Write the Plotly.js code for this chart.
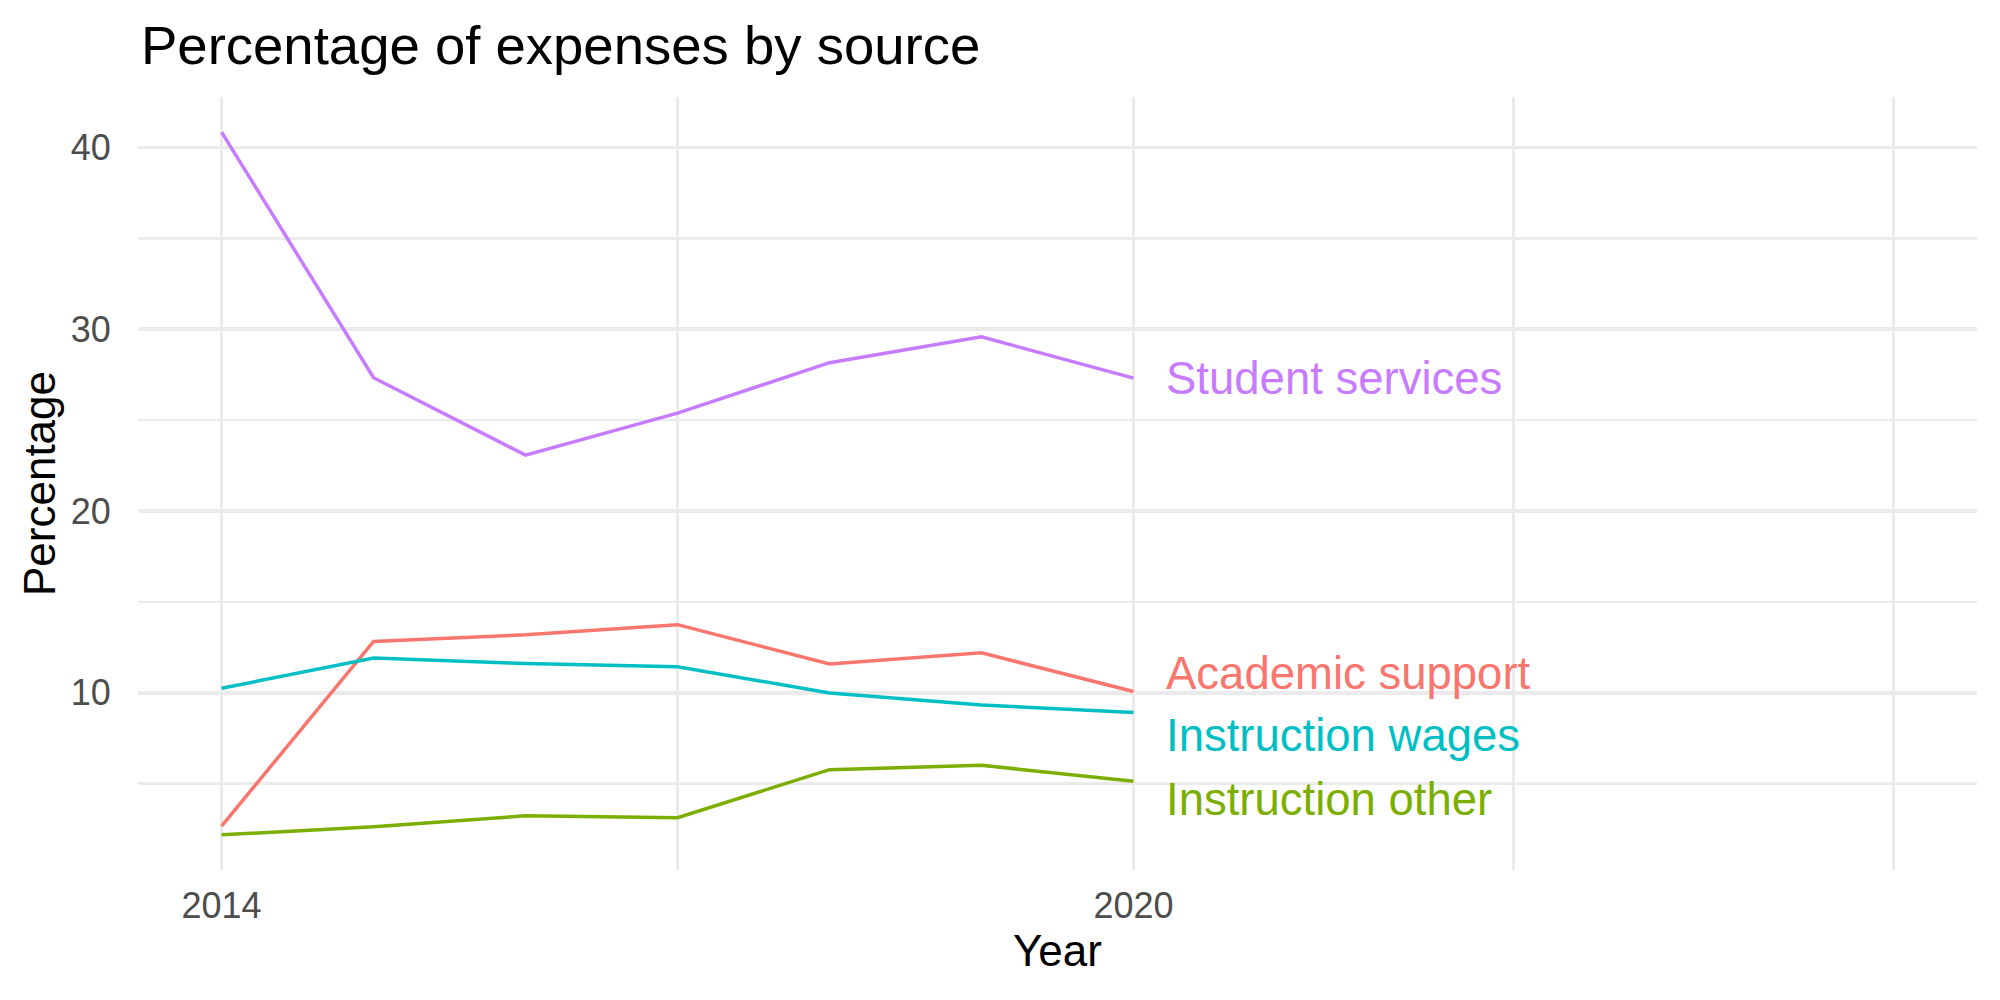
<!DOCTYPE html>
<html>
<head>
<meta charset="utf-8">
<script src="https://cdn.plot.ly/plotly-3.0.1.min.js"></script>
<style>html,body{margin:0;padding:0;background:#fff;}#chart{width:2000px;height:1000px;}</style>
</head>
<body>
<div id="chart"></div>
<script>
// ---- data ----
const years = [2014, 2015, 2016, 2017, 2018, 2019, 2020];
const academicSupport   = [2.65, 12.82, 13.18, 13.74, 11.58, 12.19, 10.06];
const instructionOther  = [2.17, 2.61, 3.22, 3.11, 5.76, 6.00, 5.12];
const instructionWages  = [10.24, 11.90, 11.60, 11.42, 9.98, 9.32, 8.90];
const studentServices   = [40.85, 27.33, 23.07, 25.38, 28.16, 29.58, 27.31];
const seriesNames = ["Academic support", "Instruction other", "Instruction wages", "Student services"];
const xTickVals = [2014, 2020, 2025];
const xTickText = ["2014", "2020", ""];
const xMinorVals = [2017, 2022.5];
const yTickVals = [10, 20, 30, 40];
const yTickText = ["10", "20", "30", "40"];
const yMinorVals = [5, 15, 25, 35];

// ---- styles ----
const colors = ["#F8766D", "#7CAE00", "#00BFC4", "#C77CFF"];
const labelShift = [18, -18, -23, 0];
const FONT = "Liberation Sans, Arial, sans-serif";

const allSeries = [academicSupport, instructionOther, instructionWages, studentServices];

const traces = allSeries.map((vals, i) => ({
  x: years, y: vals, type: "scatter", mode: "lines", name: seriesNames[i],
  line: {color: colors[i], width: 3.5}, hoverinfo: "skip", showlegend: false
}));

const allVals = [].concat(...allSeries);
const yMin = Math.min(...allVals), yMax = Math.max(...allVals);
const yPad = (yMax - yMin) * 0.05;
const xLo = 2014, xHi = 2025, xPad = (xHi - xLo) * 0.05;

const annotations = allSeries.map((vals, i) => ({
  x: years[years.length - 1], y: vals[vals.length - 1], xref: "x", yref: "y",
  text: seriesNames[i], showarrow: false, xanchor: "left", yanchor: "middle",
  xshift: 31, yshift: labelShift[i],
  font: {family: FONT, size: 45.5, color: colors[i]}
}));

const layout = {
  width: 2000, height: 1000,
  paper_bgcolor: "#ffffff", plot_bgcolor: "#ffffff",
  margin: {l: 138, r: 23, t: 97, b: 130, pad: 0},
  font: {family: FONT},
  title: {
    text: "Percentage of expenses by source",
    font: {family: FONT, size: 54.5, color: "#000000"},
    x: 0.0705, xref: "container", xanchor: "left",
    y: 0.955, yref: "container", yanchor: "middle"
  },
  xaxis: {
    range: [xLo - xPad, xHi + xPad],
    tickmode: "array", tickvals: xTickVals, ticktext: xTickText,
    showgrid: true, gridcolor: "#EBEBEB", gridwidth: 3.8,
    minor: {tickmode: "array", tickvals: xMinorVals, showgrid: true, gridcolor: "#EBEBEB", gridwidth: 2.2, ticks: ""},
    zeroline: false, showline: false,
    ticks: "outside", ticklen: 4, tickcolor: "rgba(0,0,0,0)",
    tickfont: {family: FONT, size: 36, color: "#4D4D4D"},
    title: {text: "Year", font: {family: FONT, size: 44, color: "#000000"}, standoff: 4}
  },
  yaxis: {
    range: [yMin - yPad, yMax + yPad],
    tickmode: "array", tickvals: yTickVals, ticktext: yTickText,
    showgrid: true, gridcolor: "#EBEBEB", gridwidth: 3.8,
    minor: {tickmode: "array", tickvals: yMinorVals, showgrid: true, gridcolor: "#EBEBEB", gridwidth: 2.2, ticks: ""},
    zeroline: false, showline: false,
    ticks: "outside", ticklen: 19, tickcolor: "rgba(0,0,0,0)",
    tickfont: {family: FONT, size: 36, color: "#4D4D4D"},
    title: {text: "Percentage", font: {family: FONT, size: 44, color: "#000000"}, standoff: 1}
  },
  annotations: annotations
};

Plotly.newPlot("chart", traces, layout, {displayModeBar: false, staticPlot: true});
</script>
</body>
</html>
